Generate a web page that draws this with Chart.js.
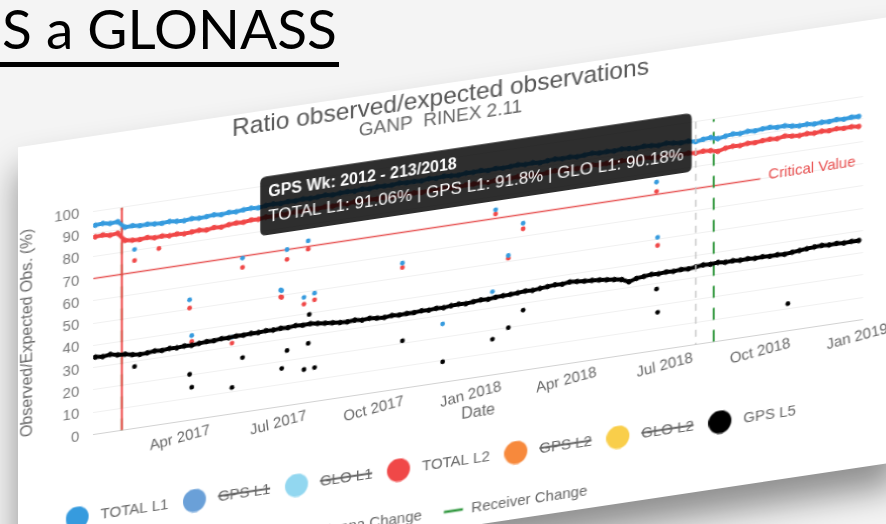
<!DOCTYPE html>
<html lang="cs">
<head>
<meta charset="UTF-8">
<title>Ratio observed/expected observations</title>
<script src="https://cdn.jsdelivr.net/npm/chart.js@4.4.1/dist/chart.umd.min.js"></script>
<style>
  html, body { margin: 0; padding: 0; width: 886px; height: 524px; overflow: hidden; background: #f4f4f4; }
  #slideTitle { position: absolute; left: 0; top: 1px; font-family: Lato, sans-serif; font-size: 55px; line-height: 55px;
                color: #000; padding: 0 2px 6px 2px; border-bottom: 5px solid #000; white-space: nowrap; }
  #skew { position: absolute; left: 0; top: 0; width: 900px; height: 640px; transform: skewY(-8.5deg); transform-origin: 0 0; }
  #card { position: absolute; left: 18px; top: 150px; width: 880px; height: 446px; background: #fff;
          box-shadow: 0 24px 34px rgba(0,0,0,0.42); }
  canvas { display: block; }
</style>
</head>
<body>
<div id="slideTitle">S a GLONASS</div>
<div id="skew"><div id="card"><canvas id="ratioChart" width="880" height="446"></canvas></div></div>
<script>
// weekly samples, first one on 2017-01-11
const startDate = '2017-01-11';
const stepDays = 7;

const totalL1 = [93.8, 94.1, 93.6, 93.9,
  90.9, 91.1, 90.6, 90.8, 90.4, 90.2, 90.5, 90.1,
  89.9, 90.3, 90.0, 90.2, 90.5, 90.1, 90.6, 90.4, 90.8,
  91.0, 90.7, 91.2, 91.4, 91.1, 91.5, 91.3, 91.7, 91.4,
  91.6, 91.9, 91.5, 91.8, 92.0, 91.7, 92.1, 91.8, 92.2, 92.0, 91.9, 92.3, 92.0,
  92.1, 91.8, 92.3, 92.0, 92.4, 92.1, 91.9, 92.3, 92.2, 92.5, 92.0, 92.4, 92.1,
  92.3, 92.6, 92.2, 92.5, 92.0, 92.4, 92.7, 92.3, 92.6, 92.2, 92.5, 92.8, 92.4,
  92.6, 92.3, 92.7, 92.4, 92.1, 92.5, 92.2, 91.8, 92.3, 91.9, 91.5, 91.8, 91.06,
  91.6, 91.9, 90.9, 91.5, 92.0, 91.7, 92.2, 91.9,
  92.3, 92.5, 92.0, 92.2, 91.6, 91.2, 91.4, 91.0, 91.3, 91.1, 91.5, 91.2, 91.6, 91.4];

const totalL2 = [88.6, 88.9, 88.3, 88.7,
  85.0, 84.6, 84.4, 84.8, 84.2, 84.5, 84.1, 84.4,
  84.0, 84.3, 84.6, 84.2, 84.8, 84.5, 85.1, 85.4, 85.2,
  85.7, 85.5, 86.0, 85.8, 86.2, 86.0, 86.4, 86.1, 86.5,
  86.3, 86.7, 86.4, 86.8, 86.5, 86.9, 86.6, 87.0, 86.7, 86.9, 86.5, 87.1, 86.8,
  86.9, 86.6, 87.0, 86.7, 87.2, 86.8, 86.5, 87.0, 86.9, 87.2, 86.7, 87.1, 86.8,
  87.0, 87.3, 86.9, 87.2, 86.7, 87.1, 87.4, 87.0, 87.3, 86.9, 87.2, 87.5, 87.1,
  87.3, 87.0, 87.4, 87.1, 86.8, 87.2, 86.9, 86.5, 87.0, 86.6, 86.2, 86.4, 85.9,
  86.3, 86.0, 85.2, 86.1, 86.5, 86.3, 86.8, 86.6,
  87.0, 87.2, 86.9, 87.6, 87.1, 86.8, 87.2, 86.9, 87.3, 87.0, 87.4, 87.1, 87.3, 86.9];

const gpsL5 = [34.6, 34.3, 34.8, 34.1,
  33.9, 33.2, 32.8, 33.0, 33.4, 33.1, 33.5, 33.3,
  33.6, 33.4, 33.8, 34.1, 34.0, 34.4, 34.3, 34.6, 34.5,
  34.8, 34.7, 35.0, 34.8, 35.1, 34.9, 35.3, 35.0, 35.2,
  34.8, 34.4, 34.1, 33.7, 33.5, 33.8, 33.3, 33.6, 33.2, 33.0, 33.4, 33.1, 33.3,
  33.2, 33.5, 33.3, 33.6, 33.4, 33.8, 34.0, 33.7, 34.1, 34.4, 34.2, 34.6, 34.8,
  34.9, 35.1, 35.4, 35.2, 35.6, 35.9, 36.2, 36.0, 36.5, 36.2, 35.9, 35.7, 35.4,
  35.0, 34.6, 34.1, 32.6, 33.6, 34.0, 34.4, 34.2, 34.5, 34.3, 34.6, 34.4, 34.8,
  35.2, 35.0, 35.3, 34.9, 35.1, 34.8, 35.0, 34.7,
  34.9, 34.6, 34.8, 34.5, 34.9, 35.2, 35.5, 35.8, 36.0, 35.7, 35.9, 35.6, 35.8, 35.7];

// single bad days
const l1OutDates = ['2017-02-17', '2017-04-10', '2017-04-12', '2017-05-20', '2017-05-30', '2017-07-05', '2017-07-06',
  '2017-07-11', '2017-07-27', '2017-07-31', '2017-08-06', '2017-10-28', '2017-12-05', '2018-01-21', '2018-01-24',
  '2018-02-05', '2018-02-19', '2018-06-25', '2018-06-26'];
const l1OutValues = [80.3, 54.0, 37.8, 34.4, 69.2, 52.3, 51.9, 70.0, 47.4, 72.5, 48.6, 56.2, 26.2, 37.3, 73.9,
  52.5, 66.0, 75.5, 50.6];
const l2OutDates = ['2017-02-17', '2017-03-12', '2017-04-10', '2017-04-12', '2017-05-20', '2017-05-30', '2017-07-05',
  '2017-07-06', '2017-07-11', '2017-07-27', '2017-07-31', '2017-08-06', '2017-10-28', '2018-01-24', '2018-02-05',
  '2018-02-19', '2018-06-25', '2018-06-26'];
const l2OutValues = [75.3, 79.1, 50.3, 35.1, 31.7, 65.0, 49.2, 48.9, 65.6, 44.4, 68.8, 45.6, 54.2, 72.0, 51.3,
  63.5, 71.3, 47.0];
const l5OutDates = ['2017-02-17', '2017-04-10', '2017-04-12', '2017-05-20', '2017-05-30', '2017-07-06', '2017-07-11',
  '2017-07-27', '2017-07-31', '2017-08-01', '2017-08-06', '2017-10-28', '2017-12-05', '2018-01-21', '2018-02-05',
  '2018-02-19', '2018-06-25', '2018-06-26', '2018-10-27'];
const l5OutValues = [27.7, 20.5, 14.6, 11.8, 24.5, 17.0, 24.7, 15.0, 26.5, 39.4, 15.2, 21.3, 9.2, 16.0, 20.1,
  27.0, 27.5, 17.0, 12.1];

const antennaChanges = ['2017-02-05'];
const receiverChanges = ['2017-02-05', '2018-08-18'];
const criticalValue = 70;
const criticalEnd = '2018-10-01';

const axisStart = '2017-01-09';
const axisEnd = '2019-01-06';
const tickDates = ['2017-04-01', '2017-07-01', '2017-10-01', '2018-01-01', '2018-04-01', '2018-07-01', '2018-10-01', '2019-01-01'];
const tickLabels = ['Apr 2017', 'Jul 2017', 'Oct 2017', 'Jan 2018', 'Apr 2018', 'Jul 2018', 'Oct 2018', 'Jan 2019'];

const tooltipIndex = 81; // 2018-08-01
const tooltipTitle = 'GPS Wk: 2012 - 213/2018';
const tooltipBody = 'TOTAL L1: 91.06% | GPS L1: 91.8% | GLO L1: 90.18%';

function day(s) { return Date.parse(s + 'T00:00:00Z') / 86400000; }
function weekly(values) { return values.map((v, i) => ({ x: day(startDate) + i * stepDays, y: v })); }
function pairs(dates, values) { return dates.map((d, i) => ({ x: day(d), y: values[i] })); }
function vlines(dates) {
  const pts = [];
  dates.forEach(d => { pts.push({ x: day(d), y: 0 }, { x: day(d), y: 100 }, { x: day(d), y: null }); });
  return pts;
}

const BLUE = 'rgb(54, 155, 222)';
const RED = 'rgb(240, 72, 72)';
const GREEN = 'rgb(46, 150, 60)';

function band(label, color, values) {
  return { label: label, data: weekly(values), showLine: true, borderColor: color, backgroundColor: color,
    borderWidth: 4, pointRadius: 2.3, pointHoverRadius: 2.3, pointBorderWidth: 1, legendIcon: 'circle' };
}
function legendOnly(label, color) {
  return { label: label, data: [], hidden: true, borderColor: color, backgroundColor: color, legendIcon: 'circle' };
}
function outliers(color, dates, values) {
  return { noLegend: true, data: pairs(dates, values), backgroundColor: color, borderColor: color,
    pointRadius: 2.4, pointHoverRadius: 2.4, pointBorderWidth: 0 };
}

// legend symbol: a circle (or short line) sitting left of the box so the gap to the text is wider
function legendImage(kind, color) {
  const c = document.createElement('canvas');
  c.width = 47; c.height = 24;
  const g = c.getContext('2d');
  if (kind === 'line') {
    g.strokeStyle = color; g.lineWidth = 2.5;
    g.beginPath(); g.moveTo(7.5, 12); g.lineTo(26.5, 12); g.stroke();
  } else {
    g.fillStyle = color;
    g.beginPath(); g.arc(11.5, 12, 11.5, 0, Math.PI * 2); g.fill();
  }
  return c;
}

const hoverLine = {
  id: 'hoverLine',
  afterDatasetsDraw(chart) {
    const act = chart.tooltip.getActiveElements();
    const c = chart.ctx, area = chart.chartArea;
    if (act.length) {
      const x = act[0].element.x;
      c.save();
      c.strokeStyle = '#c8c8c8';
      c.lineWidth = 1.5;
      c.setLineDash([7, 6]);
      c.beginPath(); c.moveTo(x, area.top); c.lineTo(x, area.bottom); c.stroke();
      c.restore();
    }
    // label of the critical line
    const xs = chart.scales.x, ys = chart.scales.y;
    c.save();
    c.fillStyle = 'rgb(232, 80, 80)';
    c.font = '15px "Liberation Sans", Arial, sans-serif';
    c.textBaseline = 'middle';
    c.fillText('Critical Value', xs.getPixelForValue(day(criticalEnd)) + 8, ys.getPixelForValue(criticalValue) - 3);
    c.restore();
  }
};

Chart.defaults.font.family = '"Liberation Sans", Arial, sans-serif';

const ctx = document.getElementById('ratioChart').getContext('2d');

const chart = new Chart(ctx, {
  type: 'scatter',
  data: {
    datasets: [
      band('TOTAL L1', BLUE, totalL1),
      legendOnly('GPS L1', 'rgb(106, 160, 216)'),
      legendOnly('GLO L1', 'rgb(146, 215, 240)'),
      band('TOTAL L2', RED, totalL2),
      legendOnly('GPS L2', 'rgb(247, 137, 60)'),
      legendOnly('GLO L2', 'rgb(249, 206, 74)'),
      band('GPS L5', '#000', gpsL5),
      { label: 'Antenna Change', data: vlines(antennaChanges), showLine: true, spanGaps: false,
        borderColor: RED, backgroundColor: RED, borderWidth: 2, pointRadius: 0, pointHoverRadius: 0, legendIcon: 'line' },
      { label: 'Receiver Change', data: vlines(receiverChanges), showLine: true, spanGaps: false,
        borderColor: GREEN, backgroundColor: GREEN, borderWidth: 2, borderDash: [12, 10],
        pointRadius: 0, pointHoverRadius: 0, legendIcon: 'line' },
      outliers(BLUE, l1OutDates, l1OutValues),
      outliers(RED, l2OutDates, l2OutValues),
      outliers('#000', l5OutDates, l5OutValues),
      { noLegend: true, data: [{ x: day(axisStart), y: criticalValue }, { x: day(criticalEnd), y: criticalValue }],
        showLine: true, borderColor: 'rgb(232, 90, 90)', borderWidth: 1.5, pointRadius: 0, pointHoverRadius: 0 }
    ]
  },
  options: {
    responsive: false,
    animation: false,
    layout: { padding: { left: 0, right: 35, top: 0, bottom: 0 } },
    scales: {
      x: {
        type: 'linear',
        min: day(axisStart),
        max: day(axisEnd),
        afterBuildTicks: axis => { axis.ticks = tickDates.map(d => ({ value: day(d) })); },
        ticks: {
          autoSkip: false, minRotation: 7, maxRotation: 7, labelOffset: 30, padding: 4,
          color: '#666', font: { size: 15 },
          callback: (v, i) => tickLabels[i]
        },
        title: { display: true, text: 'Date', color: '#666', font: { size: 16 }, padding: { top: -8, bottom: -5 } },
        grid: { display: false, drawTicks: false },
        border: { display: false }
      },
      y: {
        min: 0, max: 100,
        ticks: { stepSize: 10, color: '#777', font: { size: 15 }, padding: 14 },
        title: { display: true, text: 'Observed/Expected Obs. (%)', color: '#666', font: { size: 16 },
          padding: { top: 0, bottom: 3 } },
        grid: { drawTicks: false, color: c => c.tick && c.tick.value === 0 ? '#d2d2d2' : 'rgba(0,0,0,0.06)' },
        border: { display: false }
      }
    },
    plugins: {
      title: { display: true, text: 'Ratio observed/expected observations', color: '#555',
        font: { size: 24.5, weight: 'normal' }, padding: { top: 0, bottom: -6 } },
      subtitle: { display: true, text: 'GANP  RINEX 2.11', color: '#666', font: { size: 19 }, padding: { top: 0, bottom: 29.5 } },
      legend: {
        position: 'bottom',
        labels: {
          usePointStyle: true, pointStyleWidth: 8, padding: 34, color: '#666', font: { size: 15 },
          generateLabels: chart => Chart.defaults.plugins.legend.labels.generateLabels(chart)
            .filter(item => !chart.data.datasets[item.datasetIndex].noLegend)
            .map(item => {
              const ds = chart.data.datasets[item.datasetIndex];
              item.pointStyle = legendImage(ds.legendIcon, ds.borderColor);
              return item;
            })
        }
      },
      tooltip: {
        xAlign: 'right', yAlign: 'center', caretSize: 0, caretPadding: 4, displayColors: false,
        backgroundColor: 'rgba(0,0,0,0.82)', cornerRadius: 6, padding: { x: 8, y: 7 },
        titleFont: { size: 16, weight: 'bold' }, bodyFont: { size: 17 }, titleMarginBottom: 5,
        filter: item => item.datasetIndex === 0,
        callbacks: { title: () => tooltipTitle, label: () => tooltipBody }
      }
    }
  },
  plugins: [hoverLine]
});

const pt = chart.getDatasetMeta(0).data[tooltipIndex];
chart.tooltip.setActiveElements([{ datasetIndex: 0, index: tooltipIndex }], { x: pt.x, y: pt.y });
chart.update();
</script>
</body>
</html>
